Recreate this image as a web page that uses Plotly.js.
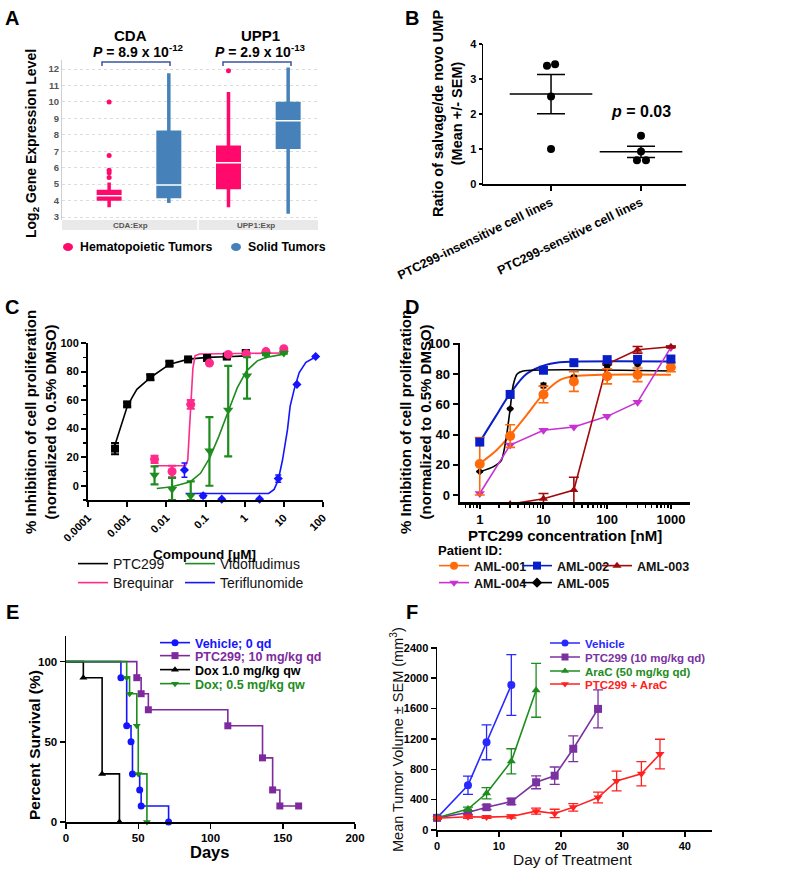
<!DOCTYPE html>
<html><head><meta charset="utf-8">
<script src="https://cdn.plot.ly/plotly-3.0.1.min.js"></script>
<style>html,body{margin:0;padding:0;background:#fff}#chart{width:800px;height:870px}</style>
</head><body><div id="chart"></div>
<script>
// ================= DATA =================
// Panel A – box statistics (Log2 expression)
const aGroups = ["CDA:Exp", "UPP1:Exp"];
const hemaPos = [1, 3];
const solidPos = [2, 4];
const hemaQ1 = [4.1, 4.8], hemaMed = [4.3, 6.3], hemaQ3 = [4.55, 7.25], hemaLo = [3.6, 3.6], hemaHi = [5.1, 10.6];
const solidQ1 = [4.25, 7.25], solidMed = [4.95, 8.85], solidQ3 = [8.15, 9.9], solidLo = [3.85, 3.2], solidHi = [11.75, 12.1];
const hemaOutPos = [1, 1, 1, 1, 1, 3];
const hemaOutVal = [5.4, 5.7, 5.85, 6.75, 10.0, 11.9];
const aTicks = [3, 4, 5, 6, 7, 8, 9, 10, 11, 12];

// Panel B
const bCategories = ["PTC299-insensitive cell lines", "PTC299-sensitive cell lines"];
const insensVals = [3.38, 3.42, 2.5, 1.0];
const insensJitter = [-0.045, 0.045, 0, 0];
const sensVals = [1.38, 0.93, 0.68, 0.68];
const sensJitter = [0, 0, -0.045, 0.055];
const bMeans = [2.57, 0.92];
const bSEM = [0.56, 0.16];

// Panel C – compound dose response (µM, % inhibition)
const ptcX = [0.00049, 0.001, 0.0039, 0.012, 0.036, 0.11, 0.35, 1.07];
const ptcY = [26, 57, 76, 85.5, 88.5, 89.5, 90.5, 93];
const ptcErr = [4, 1.5, 2, 1.5, 1, 1, 1, 1.5];
const ptcFitX = [0.00049, 0.00066, 0.00098, 0.00132, 0.00177, 0.0041, 0.0122, 0.037, 0.11, 0.346, 1.06];
const ptcFitY = [28.7, 39.3, 54.6, 61.6, 67.5, 76.2, 85.2, 88.7, 89.9, 90.4, 91];
const breqX = [0.005, 0.014, 0.042, 0.126, 0.38, 1.1, 3.5, 10];
const breqY = [18.5, 10, 57, 86, 92, 92.5, 94, 96];
const breqErr = [2.5, 4, 3, 0.5, 0.5, 0.5, 0.5, 0.5];
const breqFitX = [0.005, 0.031, 0.0352, 0.039, 0.043, 0.0476, 0.054, 0.07, 10];
const breqFitY = [14, 14, 18, 39, 63, 82, 91, 92.3, 93];
const vidoX = [0.005, 0.014, 0.042, 0.126, 0.38, 1.15, 3.5, 10];
const vidoY = [7.5, -2.5, -7, 24.5, 53, 77, 92, 93];
const vidoErrUp = [6, 8, 10, 23.5, 31, 13, 0.5, 0.5];
const vidoErrDn = [6.5, 7.5, 3, 24.5, 32.5, 16, 0.5, 0.5];
const vidoFitX = [0.0057, 0.014, 0.041, 0.0745, 0.127, 0.219, 0.382, 0.65, 1.12, 2.11, 3.45, 10];
const vidoFitY = [-1.9, -0.7, 2.8, 8.7, 19.3, 34.6, 52.2, 68.7, 80.5, 87.5, 89.9, 92.2];
const teriX = [0.029, 0.087, 0.26, 2.4, 7.2, 21.6, 65];
const teriY = [11, -7, -9.4, -9.4, 5, 71, 90.5];
const teriErr = [5, 1.5, 0.5, 0.5, 2.5, 0.5, 0.5];
const teriFitX = [0.031, 4.1, 5.65, 7.2, 9.25, 12.4, 14.5, 18.4, 24.7, 36.6, 66];
const teriFitY = [-5.4, -5.4, -2.6, 4, 18, 39.3, 55.8, 67.5, 79.3, 86.4, 90.4];
const cTickVals = [0.0001, 0.001, 0.01, 0.1, 1, 10, 100];
const cTickText = ["0.0001", "0.001", "0.01", "0.1", "1", "10", "100"];

// Panel D – PTC299 on AML patient samples (nM)
const dConc = [1, 3, 10, 30, 100, 300, 1000];
const aml001 = [20.5, 39, 66.5, 75, 78.5, 79.5, 84.5];
const aml001ErrUp = [17.5, 7.5, 5.5, 6.5, 5, 4.5, 3];
const aml001ErrDn = [20.5, 7.5, 5.5, 6.5, 5, 4.5, 3];
const aml001FitX = [1, 1.83, 3, 5.4, 10, 18, 30, 1000];
const aml001FitY = [20.8, 29.6, 39.5, 52.6, 66.9, 76, 78.5, 79.5];
const aml002 = [35, 66.5, 82.5, 87.5, 89.5, 89.7, 89.9];
const aml002FitX = [1, 1.72, 3, 5.4, 10, 18, 30, 1000];
const aml002FitY = [35, 51, 67, 80, 85.5, 87.7, 88.2, 88.3];
const aml003 = [-6, -2.5, 3.3, 86.6, 96, 98];
const aml003X = [3, 10, 30, 100, 300, 1000];
const aml003Err = [0, 3.5, 8.5, 0.5, 2.2, 0.5];
const aml004 = [1, 33, 42.8, 45, 52, 61.4, 97.6];
const aml005 = [15.5, 57, 72.4, 78, 85.5, 86.6, 88];
const aml005Err = [0.5, 0.5, 1.5, 1, 1, 1.2, 0.5];
const aml005FitX = [1, 1.62, 2.19, 2.62, 3, 3.34, 3.86, 4.79, 1000];
const aml005FitY = [15.4, 18.6, 23, 38.4, 57, 72.4, 80, 82, 82];

// Panel E – Kaplan–Meier survival (days, %)
const vehDays = [38, 42, 45, 46, 51, 52, 71];
const vehSurv = [90, 60, 50, 30, 20, 10, 0];
const ptcDays = [49, 52, 57, 112, 136, 143, 148, 161];
const ptcSurv = [90, 80, 70, 60, 40, 20, 10, 10];
const dox1Days = [12, 25, 37];
const dox1Surv = [90, 30, 0];
const dox05Days = [42, 44, 49, 50, 56];
const dox05Surv = [90, 80, 60, 30, 0];

// Panel F – tumor volume (mm3)
const fVehDay = [0, 5, 8, 12];
const fVeh = [160, 590, 1155, 1910];
const fVehErr = [20, 120, 230, 400];
const fPtcDay = [0, 5, 8, 12, 16, 19, 22, 26];
const fPtc = [160, 230, 300, 375, 628, 715, 1070, 1595];
const fPtcErr = [20, 25, 30, 40, 85, 115, 170, 250];
const fAraDay = [0, 5, 8, 12, 16];
const fAra = [160, 275, 484, 905, 1840];
const fAraErr = [20, 25, 75, 165, 355];
const fComDay = [0, 5, 8, 12, 16, 19, 22, 26, 29, 33, 36];
const fCom = [155, 175, 170, 178, 248, 218, 298, 428, 645, 740, 1000];
const fComErr = [15, 20, 15, 20, 40, 55, 50, 70, 130, 160, 195];

// ================= HELPERS =================
const FONT = 'Arial, "Liberation Sans", Helvetica, sans-serif';
const W = 800, H = 870;
const px = v => v / W;
const py = v => 1 - v / H;
function ax(o) {
  return Object.assign({
    showline: true, linecolor: '#000', linewidth: 1.5, ticks: 'outside', ticklen: 5, tickwidth: 1.5,
    tickcolor: '#000', showgrid: false, zeroline: false, fixedrange: true,
    tickfont: {family: FONT, size: 11, color: '#000', weight: 'bold'}
  }, o);
}
const traces = [];
const annotations = [];
const shapes = [];
const legends = {};
let legendN = 0;
function newLegend(textStartPx, yPx, font) {
  legendN++;
  const key = legendN === 1 ? 'legend' : 'legend' + legendN;
  legends[key] = {x: px(textStartPx - 40), y: py(yPx), xanchor: 'left', yanchor: 'middle',
    bgcolor: 'rgba(0,0,0,0)', borderwidth: 0, font: font, itemclick: false, itemdoubleclick: false,
    tracegroupgap: 0};
  return key;
}
function ann(text, x, y, size, opts) {
  annotations.push(Object.assign({text: text, x: px(x), y: py(y), xref: 'paper', yref: 'paper',
    showarrow: false, xanchor: 'center', yanchor: 'middle',
    font: {family: FONT, size: size, color: '#000', weight: 'bold'}}, opts || {}));
}
function errY(up, dn, color, thick, w) {
  const e = {type: 'data', array: up, color: color, thickness: thick, width: w, visible: true};
  if (dn) { e.symmetric = false; e.arrayminus = dn; }
  return e;
}

// ================= PANEL A =================
const PINK = '#FF0A6C', STEEL = '#4682B9';
traces.push({type: 'box', x: hemaPos, q1: hemaQ1, median: hemaMed, q3: hemaQ3, lowerfence: hemaLo,
  upperfence: hemaHi, width: 0.36, whiskerwidth: 0, fillcolor: PINK, line: {color: PINK, width: 3.5},
  boxpoints: false, xaxis: 'x', yaxis: 'y', showlegend: false, hoverinfo: 'skip'});
traces.push({type: 'box', x: solidPos, q1: solidQ1, median: solidMed, q3: solidQ3, lowerfence: solidLo,
  upperfence: solidHi, width: 0.36, whiskerwidth: 0, fillcolor: STEEL, line: {color: STEEL, width: 3.5},
  boxpoints: false, xaxis: 'x', yaxis: 'y', showlegend: false, hoverinfo: 'skip'});
traces.push({type: 'scatter', mode: 'markers', x: hemaPos.concat(solidPos), y: hemaMed.concat(solidMed),
  marker: {symbol: 'line-ew', size: 24, line: {color: '#fff', width: 1.5}},
  xaxis: 'x', yaxis: 'y', showlegend: false, hoverinfo: 'skip'});
traces.push({type: 'scatter', mode: 'markers', x: hemaOutPos, y: hemaOutVal,
  marker: {color: PINK, size: 5}, xaxis: 'x', yaxis: 'y', showlegend: false, hoverinfo: 'skip'});

// ================= PANEL B =================
traces.push({type: 'scatter', mode: 'markers', x: insensJitter.map(j => 1 + j), y: insensVals,
  marker: {color: '#000', size: 8}, xaxis: 'x2', yaxis: 'y2', showlegend: false, cliponaxis: false});
traces.push({type: 'scatter', mode: 'markers', x: sensJitter.map(j => 2 + j), y: sensVals,
  marker: {color: '#000', size: 8}, xaxis: 'x2', yaxis: 'y2', showlegend: false, cliponaxis: false});
traces.push({type: 'scatter', mode: 'markers', x: [1, 2], y: bMeans,
  marker: {symbol: 'line-ew', size: 59, color: '#000', line: {color: '#000', width: 1.5}},
  error_y: errY(bSEM, null, '#000', 1.5, 14), xaxis: 'x2', yaxis: 'y2', showlegend: false, cliponaxis: false});

// ================= PANEL C =================
const C_BLK = '#000', C_PNK = '#FF2A8A', C_GRN = '#1E8C1E', C_BLU = '#1414FF';
const cLegFont = () => ({family: FONT, size: 14, color: '#111'});
[[ptcFitX, ptcFitY, C_BLK, 'PTC299', 113, 564],
 [breqFitX, breqFitY, C_PNK, 'Brequinar', 113, 583],
 [vidoFitX, vidoFitY, C_GRN, 'Vidofludimus', 220, 564],
 [teriFitX, teriFitY, C_BLU, 'Teriflunomide', 220, 583]].forEach(r => {
  traces.push({type: 'scatter', mode: 'lines', x: r[0], y: r[1], name: r[3], line: {color: r[2], width: 1.6},
    xaxis: 'x3', yaxis: 'y3', legend: newLegend(r[4], r[5], cLegFont()), showlegend: true});
});
traces.push({type: 'scatter', mode: 'markers', x: ptcX, y: ptcY, marker: {symbol: 'square', color: C_BLK, size: 8},
  error_y: errY(ptcErr, null, C_BLK, 2, 4), xaxis: 'x3', yaxis: 'y3', showlegend: false, cliponaxis: false});
traces.push({type: 'scatter', mode: 'markers', x: breqX, y: breqY, marker: {symbol: 'circle', color: C_PNK, size: 9},
  error_y: errY(breqErr, null, C_PNK, 2, 4), xaxis: 'x3', yaxis: 'y3', showlegend: false, cliponaxis: false});
traces.push({type: 'scatter', mode: 'markers', x: vidoX, y: vidoY, marker: {symbol: 'triangle-down', color: C_GRN, size: 9},
  error_y: errY(vidoErrUp, vidoErrDn, C_GRN, 2.2, 4), xaxis: 'x3', yaxis: 'y3', showlegend: false, cliponaxis: false});
traces.push({type: 'scatter', mode: 'markers', x: teriX, y: teriY, marker: {symbol: 'diamond', color: C_BLU, size: 7},
  error_y: errY(teriErr, null, C_BLU, 1.5, 3), xaxis: 'x3', yaxis: 'y3', showlegend: false, cliponaxis: false});

// ================= PANEL D =================
const D_OR = '#FF6A0A', D_BL = '#0A1EC8', D_RD = '#A00A0A', D_MG = '#C832D2', D_BK = '#000';
const dLegFont = {family: FONT, size: 12.5, color: '#111', weight: 'bold'};
traces.push({type: 'scatter', mode: 'lines', x: aml001FitX, y: aml001FitY, line: {color: D_OR, width: 2, shape: 'spline'},
  xaxis: 'x4', yaxis: 'y4', showlegend: false});
traces.push({type: 'scatter', mode: 'lines', x: aml002FitX, y: aml002FitY, line: {color: D_BL, width: 2, shape: 'spline'},
  xaxis: 'x4', yaxis: 'y4', showlegend: false});
traces.push({type: 'scatter', mode: 'lines', x: aml005FitX, y: aml005FitY, line: {color: D_BK, width: 1.6, shape: 'spline', smoothing: 0.6},
  xaxis: 'x4', yaxis: 'y4', showlegend: false});
traces.push({type: 'scatter', mode: 'lines+markers', x: dConc, y: aml004, line: {color: D_MG, width: 1.6},
  marker: {symbol: 'triangle-down', size: 9, color: D_MG}, xaxis: 'x4', yaxis: 'y4', showlegend: false});
traces.push({type: 'scatter', mode: 'lines+markers', x: aml003X, y: aml003, line: {color: D_RD, width: 1.6},
  marker: {symbol: 'triangle-up', size: 8, color: D_RD}, error_y: errY(aml003Err, null, D_RD, 1.6, 5),
  xaxis: 'x4', yaxis: 'y4', showlegend: false});
traces.push({type: 'scatter', mode: 'markers', x: dConc, y: aml005, marker: {symbol: 'diamond', size: 6, color: D_BK},
  error_y: errY(aml005Err, null, D_BK, 1.5, 3), xaxis: 'x4', yaxis: 'y4', showlegend: false});
traces.push({type: 'scatter', mode: 'markers', x: dConc, y: aml001, marker: {symbol: 'circle', size: 10, color: D_OR},
  error_y: errY(aml001ErrUp, aml001ErrDn, D_OR, 1.6, 5), xaxis: 'x4', yaxis: 'y4', showlegend: false});
traces.push({type: 'scatter', mode: 'markers', x: dConc, y: aml002, marker: {symbol: 'square', size: 9, color: D_BL},
  xaxis: 'x4', yaxis: 'y4', showlegend: false});
// legend entries for D
[['AML-001', D_OR, 'circle', 474, 566], ['AML-002', D_BL, 'square', 557, 566], ['AML-003', D_RD, 'triangle-up', 637, 566],
 ['AML-004', D_MG, 'triangle-down', 474, 583], ['AML-005', D_BK, 'diamond', 557, 583]].forEach(r => {
  traces.push({type: 'scatter', mode: 'lines+markers', x: [null], y: [null], name: r[0],
    line: {color: r[1], width: 1.6}, marker: {symbol: r[2], color: r[1], size: 8},
    xaxis: 'x4', yaxis: 'y4', legend: newLegend(r[3], r[4], dLegFont), showlegend: true});
});

// ================= PANEL E =================
const E_BL = '#1414FF', E_PU = '#7E2A9E', E_BK = '#000', E_GR = '#1E8C1E';
[[vehDays, vehSurv, E_BL, 'circle', 'Vehicle; 0 qd', 643],
 [ptcDays, ptcSurv, E_PU, 'square', 'PTC299; 10 mg/kg qd', 656],
 [dox1Days, dox1Surv, E_BK, 'triangle-up', 'Dox 1.0 mg/kg qw', 670],
 [dox05Days, dox05Surv, E_GR, 'triangle-down', 'Dox; 0.5 mg/kg qw', 684]].forEach(r => {
  traces.push({type: 'scatter', mode: 'lines', x: [0].concat(r[0]), y: [100].concat(r[1]),
    line: {color: r[2], width: 1.6, shape: 'hv'}, xaxis: 'x5', yaxis: 'y5', showlegend: false, cliponaxis: false});
  traces.push({type: 'scatter', mode: 'markers', x: r[0], y: r[1], marker: {symbol: r[3], color: r[2], size: 7},
    xaxis: 'x5', yaxis: 'y5', showlegend: false, cliponaxis: false});
  traces.push({type: 'scatter', mode: 'lines+markers', x: [null], y: [null], name: r[4],
    line: {color: r[2], width: 1.6}, marker: {symbol: r[3], color: r[2], size: 7}, xaxis: 'x5', yaxis: 'y5',
    legend: newLegend(195, r[5], {family: FONT, size: 12.5, color: r[2], weight: 'bold'}), showlegend: true});
});

// ================= PANEL F =================
const F_BL = '#2828FF', F_PU = '#7A32A0', F_GR = '#1E8C1E', F_RD = '#FF2020';
[[fVehDay, fVeh, fVehErr, F_BL, 'circle', 'Vehicle', 643],
 [fPtcDay, fPtc, fPtcErr, F_PU, 'square', 'PTC299 (10 mg/kg qd)', 657],
 [fAraDay, fAra, fAraErr, F_GR, 'triangle-up', 'AraC (50 mg/kg qd)', 671],
 [fComDay, fCom, fComErr, F_RD, 'triangle-down', 'PTC299 + AraC', 684]].forEach(r => {
  traces.push({type: 'scatter', mode: 'lines+markers', x: r[0], y: r[1], line: {color: r[3], width: 1.6},
    marker: {symbol: r[4], color: r[3], size: 8}, error_y: errY(r[2], null, r[3], 1.3, 5),
    xaxis: 'x6', yaxis: 'y6', showlegend: false, cliponaxis: false});
  traces.push({type: 'scatter', mode: 'lines+markers', x: [null], y: [null], name: r[5],
    line: {color: r[3], width: 1.6}, marker: {symbol: r[4], color: r[3], size: 7}, xaxis: 'x6', yaxis: 'y6',
    legend: newLegend(585, r[6], {family: FONT, size: 11.5, color: r[3], weight: 'bold'}), showlegend: true});
});

// ================= ANNOTATIONS / SHAPES =================
['A', 'B', 'C', 'D', 'E', 'F'].forEach((l, i) => {
  const pos = [[12, 18], [412, 18], [12, 307], [412, 307], [12, 612], [412, 612]][i];
  ann(l, pos[0], pos[1], 20);
});
// A texts
ann('CDA', 130, 35, 15);
ann('<i>P</i> = 8.9 x 10<sup>-12</sup>', 138, 51, 14);
ann('UPP1', 260, 35, 15);
ann('<i>P</i> = 2.9 x 10<sup>-13</sup>', 260, 51, 14);
ann('Log<sub>2</sub> Gene Expression Level', 32, 144, 14, {textangle: -90});
[[102, 170], [223, 291]].forEach(b => {
  shapes.push({type: 'path', xref: 'paper', yref: 'paper', line: {color: '#3A55A4', width: 1.5},
    path: `M${px(b[0])},${py(66)} L${px(b[0])},${py(62)} L${px(b[1])},${py(62)} L${px(b[1])},${py(66)}`});
});
shapes.push({type: 'rect', xref: 'paper', yref: 'paper', x0: px(62), x1: px(318), y0: py(230), y1: py(220),
  fillcolor: '#E9E9E9', line: {width: 0}, layer: 'below'});
shapes.push({type: 'line', xref: 'paper', yref: 'paper', x0: px(198), x1: px(198), y0: py(230), y1: py(220),
  line: {color: '#fff', width: 1.5}});
ann(aGroups[0], 130, 225.5, 8, {font: {family: FONT, size: 8, color: '#555', weight: 'bold'}});
ann(aGroups[1], 256, 225.5, 8, {font: {family: FONT, size: 8, color: '#555', weight: 'bold'}});
shapes.push({type: 'circle', xref: 'paper', yref: 'paper', x0: px(63), x1: px(73), y0: py(251), y1: py(243),
  fillcolor: PINK, line: {width: 0}});
ann('Hematopoietic Tumors', 78, 247, 12.3, {xanchor: 'left'});
shapes.push({type: 'circle', xref: 'paper', yref: 'paper', x0: px(231), x1: px(241), y0: py(251), y1: py(243),
  fillcolor: STEEL, line: {width: 0}});
ann('Solid Tumors', 246, 247, 12.3, {xanchor: 'left'});
// B texts
ann('Ratio of salvage/de novo UMP<br>(Mean +/- SEM)', 447, 114, 14.5, {textangle: -90});
ann('<i>p</i> = 0.03', 641, 111, 16);
// C / D texts
ann('% Inhibition of cell proliferation<br>(normalized to 0.5% DMSO)', 40, 422, 15, {textangle: -90});
ann('% Inhibition of cell proliferation<br>(normalized to 0.5% DMSO)', 415, 422, 15, {textangle: -90});
ann('Compound [µM]', 205, 554, 13.5);
ann('PTC299 concentration [nM]', 565, 535, 15);
ann('Patient ID:', 436, 550, 13, {xanchor: 'left'});
// E / F texts
ann('Percent Survival (%)', 34, 745, 15.5, {textangle: -90});
ann('Days', 209, 852, 16.5);
ann('Mean Tumor Volume ± SEM (mm<sup>3</sup>)', 397, 740, 14.5, {textangle: -90, font: {family: FONT, size: 14.5, color: '#111'}});
ann('Day of Treatment', 573, 859, 15.5, {font: {family: FONT, size: 15.5, color: '#111'}});

// ================= LAYOUT =================
const layout = Object.assign({
  width: W, height: H, margin: {l: 0, r: 0, t: 0, b: 0}, paper_bgcolor: '#fff', plot_bgcolor: 'rgba(0,0,0,0)',
  showlegend: true, boxmode: 'overlay', font: {family: FONT, color: '#000'},
  xaxis: ax({domain: [px(62), px(318)], range: [0.21, 4.5], showticklabels: false, ticks: '', showline: false, anchor: 'y'}),
  yaxis: ax({domain: [py(220), py(60)], range: [2.82, 12.55], tickvals: aTicks, ticks: '', showgrid: true,
    gridcolor: '#DCDCDC', griddash: 'dot', gridwidth: 1, linecolor: '#CFCFCF', linewidth: 1, anchor: 'x',
    tickfont: {family: FONT, size: 9.5, color: '#555', weight: 'bold'}}),
  xaxis2: ax({domain: [px(483), px(686)], range: [0.244, 2.5], tickvals: [1, 2], ticktext: bCategories,
    tickangle: -26, anchor: 'y2', tickfont: {family: FONT, size: 12.5, color: '#000', weight: 'bold'}}),
  yaxis2: ax({domain: [py(184), py(44)], range: [0, 4], dtick: 1, ticklen: 3, anchor: 'x2'}),
  xaxis3: ax({type: 'log', domain: [px(88), px(323)], range: [-4, 2], tickvals: cTickVals, ticktext: cTickText,
    tickangle: -45, linewidth: 2, tickwidth: 2, anchor: 'y3'}),
  yaxis3: ax({domain: [py(500), py(343)], range: [-10, 100], tickvals: [0, 20, 40, 60, 80, 100], linewidth: 2,
    tickwidth: 2, anchor: 'x3', minor: {tickvals: [-10, 10, 30, 50, 70, 90], ticks: 'outside', ticklen: 3, tickwidth: 1.5, tickcolor: '#000'}}),
  xaxis4: ax({type: 'log', domain: [px(460), px(690)], range: [-0.31, 3.3], tickvals: [1, 10, 100, 1000],
    ticktext: ['1', '10', '100', '1000'], linewidth: 2.5, tickwidth: 2, ticklen: 4, anchor: 'y4',
    tickfont: {family: FONT, size: 13, color: '#000', weight: 'bold'},
    minor: {tickvals: [0.6, 0.7, 0.8, 0.9, 2, 3, 4, 5, 6, 7, 8, 9, 20, 30, 40, 50, 60, 70, 80, 90, 200, 300, 400, 500, 600, 700, 800, 900, 2000],
      ticks: 'outside', ticklen: 3, tickwidth: 1.5, tickcolor: '#000'}}),
  yaxis4: ax({domain: [py(502), py(343)], range: [-4.6, 100.5], tickvals: [0, 20, 40, 60, 80, 100], linewidth: 2.5,
    tickwidth: 2, anchor: 'x4', tickfont: {family: FONT, size: 13, color: '#000', weight: 'bold'}}),
  xaxis5: ax({domain: [px(66), px(355)], range: [0, 200], tickvals: [0, 50, 100, 150, 200], anchor: 'y5',
    tickfont: {family: FONT, size: 11.5, color: '#000', weight: 'bold'}}),
  yaxis5: ax({domain: [py(822), py(636)], range: [0, 116], tickvals: [0, 50, 100], anchor: 'x5',
    tickfont: {family: FONT, size: 11.5, color: '#000', weight: 'bold'}}),
  xaxis6: ax({domain: [px(437), px(712)], range: [0, 44.4], tickvals: [0, 10, 20, 30, 40], anchor: 'y6',
    tickfont: {family: FONT, size: 11, color: '#000', weight: 'bold'}}),
  yaxis6: ax({domain: [py(830), py(647)], range: [0, 2410], tickvals: [0, 400, 800, 1200, 1600, 2000, 2400], anchor: 'x6',
    tickfont: {family: FONT, size: 11, color: '#000', weight: 'bold'}}),
  annotations: annotations, shapes: shapes
}, legends);

Plotly.newPlot('chart', traces, layout, {staticPlot: true, displayModeBar: false});
</script>
</body></html>
